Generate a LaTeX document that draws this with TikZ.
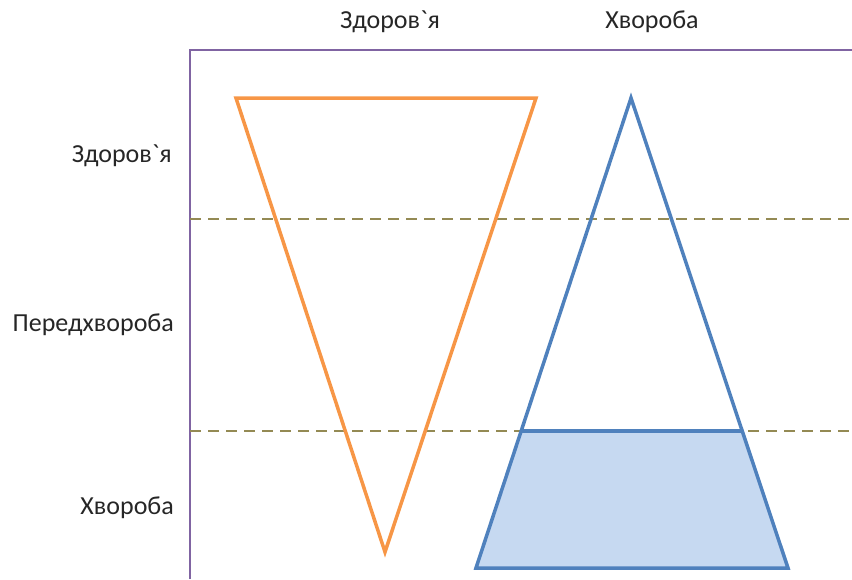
\documentclass[tikz,border=0pt]{standalone}
\usepackage{fontspec}
\setmainfont{Carlito}
\definecolor{axispurple}{HTML}{8064A2}
\definecolor{triorange}{HTML}{F79646}
\definecolor{triblue}{HTML}{4F81BD}
\definecolor{fillblue}{HTML}{C6D9F1}
\definecolor{dashol}{HTML}{948A54}
\newcommand{\grv}{\XeTeXglyph\XeTeXcharglyph"60\relax}
\tikzset{
  lbl/.style={font=\fontsize{26}{30}\selectfont, text=black!85, inner sep=0pt},
  rlbl/.style={lbl, anchor=east},
  axisline/.style={draw=axispurple, line width=2.2pt},
  levelline/.style={draw=dashol, line width=2pt, dash pattern=on 11pt off 7pt},
  tri/.style={line width=3.5pt, line join=miter}
}
\begin{document}
\begin{tikzpicture}[x=1pt,y=-1pt]
\useasboundingbox (0,0) rectangle (852,579);
% axes
\coordinate (ax0) at (190,579);
\coordinate (ax1) at (190,50);
\coordinate (ax2) at (852,50);
\draw[axisline] (ax0) -- (ax1) -- (ax2);
% level lines
\coordinate (l1a) at (190,219);
\coordinate (l1b) at (852,219);
\coordinate (l2a) at (190,431);
\coordinate (l2b) at (852,431);
\draw[levelline] (l1a) -- (l1b);
\draw[levelline] (l2a) -- (l2b);
% orange triangle
\coordinate (o1) at (236,98);
\coordinate (o2) at (536,98);
\coordinate (o3) at (385,552);
\draw[tri, draw=triorange] (o1) -- (o2) -- (o3) -- cycle;
% blue triangle
\coordinate (b1) at (631,98);
\coordinate (b2) at (788,568);
\coordinate (b3) at (476,568);
\coordinate (t1) at (521.2,431);
\coordinate (t2) at (742,431);
\fill[fillblue] (t1) -- (t2) -- (b2) -- (b3) -- cycle;
\draw[tri, draw=triblue] (b1) -- (b2) -- (b3) -- cycle;
\draw[tri, draw=triblue] (t1) -- (t2);
% labels
\node[lbl] (h1) at (390,22) {Здоров\grv я};
\node[lbl] (h2) at (652,22) {Хвороба};
\node[rlbl] (r1) at (172,156) {Здоров\grv я};
\node[rlbl] (r2) at (174,325) {Передхвороба};
\node[rlbl] (r3) at (174,508) {Хвороба};
\end{tikzpicture}
\end{document}
